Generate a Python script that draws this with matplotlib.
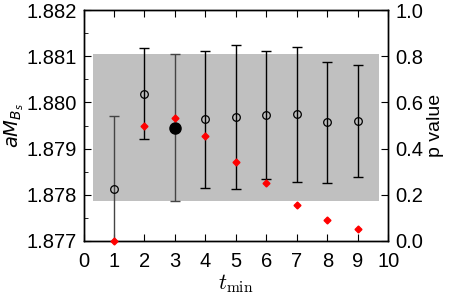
import matplotlib
matplotlib.use("Agg")
import matplotlib.pyplot as plt
from matplotlib.ticker import MultipleLocator

plt.rcParams["font.family"] = ["Liberation Sans", "DejaVu Sans"]

# fit results vs t_min
tmin = [1, 2, 3, 4, 5, 6, 7, 8, 9]
mass = [1.87813, 1.88018, 1.87945, 1.87964, 1.87968, 1.87973, 1.87974, 1.87957, 1.87960]
err_up = [1.87971, 1.88117, 1.88105, 1.88112, 1.88124, 1.88112, 1.88121, 1.88088, 1.88080]
err_lo = [1.87655, 1.87920, 1.87787, 1.87815, 1.87812, 1.87834, 1.87828, 1.87826, 1.87839]
pval = [0.0, 0.497, 0.532, 0.455, 0.341, 0.25, 0.157, 0.092, 0.05]

# chosen fit and its band
chosen = 3
band_lo, band_hi = 1.87787, 1.88105
band_x = (0.3, 9.69)

fig = plt.figure(figsize=(4.59, 2.96), dpi=100)
ax = fig.add_axes([0.182, 0.186, 0.664, 0.780])

ax.fill_between(band_x, band_lo, band_hi, color="#c0c0c0", lw=0, zorder=1)

for t, m, hi, lo in zip(tmin, mass, err_up, err_lo):
    c = "#444444" if t in (1, chosen) else "black"
    ax.errorbar(t, m, yerr=[[m - lo], [hi - m]], fmt="none", ecolor=c,
                elinewidth=1.0, capsize=3.5, capthick=1.0, zorder=2)
    if t == chosen:
        ax.plot(t, m, "o", color="black", ms=8, zorder=4)
    else:
        ax.plot(t, m, "o", mfc="none", mec="black", ms=5.5, mew=0.9, zorder=4)

ax.set_xlim(0, 10)
ax.set_ylim(1.877, 1.882)
ax.xaxis.set_major_locator(MultipleLocator(1))
ax.yaxis.set_major_locator(MultipleLocator(0.001))
ax.yaxis.set_minor_locator(MultipleLocator(0.0005))
ax.yaxis.set_major_formatter(plt.FormatStrFormatter("%.3f"))
ax.tick_params(axis="both", which="both", direction="in", labelsize=14.5)
ax.tick_params(axis="x", top=True, length=5, pad=8)
ax.tick_params(axis="y", which="major", length=5, pad=5)
ax.tick_params(axis="y", which="minor", length=3)
ax.set_xlabel(r"$t_\mathrm{min}$", fontsize=16, math_fontfamily="cm", labelpad=1)
ax.set_ylabel(r"$aM_{B_s}$", fontsize=14, math_fontfamily="dejavusans", labelpad=0)

ax2 = ax.twinx()
ax2.plot(tmin, pval, "D", color="red", ms=3.5, zorder=5, clip_on=False)
ax2.set_ylim(0, 1.0)
ax2.yaxis.set_major_locator(MultipleLocator(0.2))
ax2.yaxis.set_major_formatter(plt.FormatStrFormatter("%.1f"))
ax2.tick_params(axis="y", direction="in", labelsize=14.5, length=5, pad=5)
ax2.set_ylabel("p value", fontsize=14, labelpad=3)

for a in (ax, ax2):
    for s in a.spines.values():
        s.set_linewidth(1.0)

fig.savefig("out.png", dpi=100)
